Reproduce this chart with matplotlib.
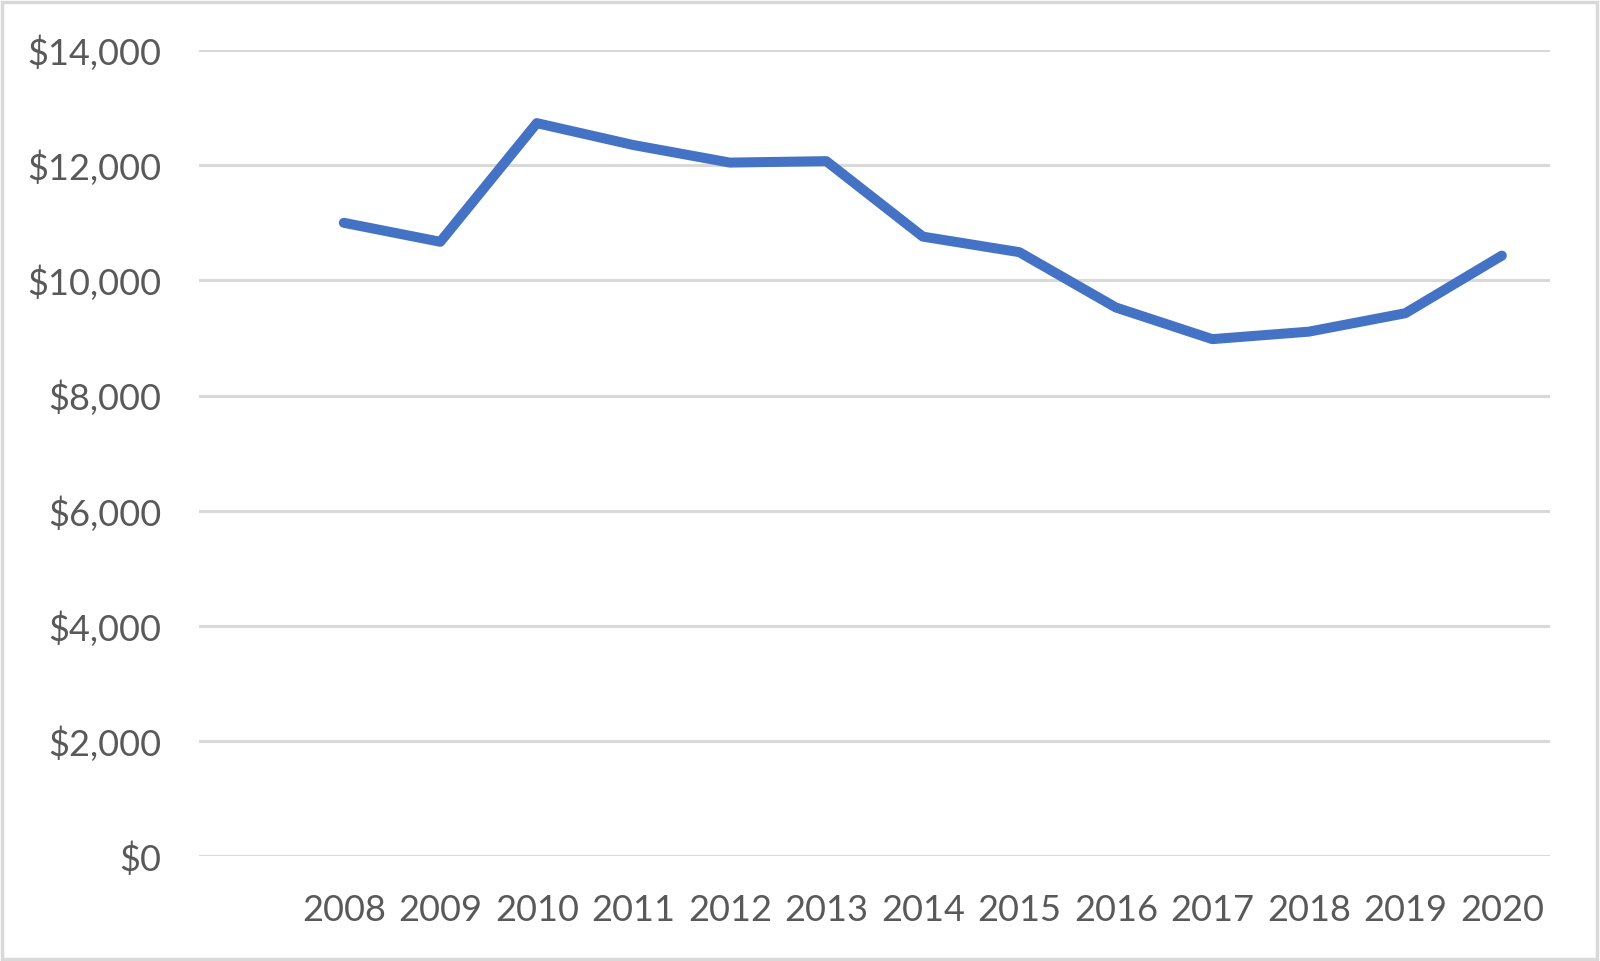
import numpy as np
import matplotlib.pyplot as plt
from matplotlib.ticker import FuncFormatter
from matplotlib.patches import Rectangle

plt.rcParams['font.family'] = ['Lato', 'DejaVu Sans']

# categories (first slot on the axis is empty in the original chart)
years = ['', '2008', '2009', '2010', '2011', '2012', '2013', '2014',
         '2015', '2016', '2017', '2018', '2019', '2020']
values = [np.nan, 11000, 10670, 12730, 12350, 12045, 12070, 10760,
          10490, 9530, 8980, 9110, 9430, 10430]
yticks = [0, 2000, 4000, 6000, 8000, 10000, 12000, 14000]

fig = plt.figure(figsize=(16, 9.61), dpi=100)
ax = fig.add_axes([0.1244, 0.1088, 0.9688 - 0.1244, 0.948 - 0.1088])

x = np.arange(len(years))
ax.plot(x, values, color='#4472C4', lw=7.2, solid_capstyle='round',
        solid_joinstyle='round', zorder=3)

ax.set_xlim(-0.5, len(years) - 0.5)
ax.set_ylim(0, 14000)
ax.set_yticks(yticks)
ax.yaxis.set_major_formatter(FuncFormatter(lambda v, p: f"${v:,.0f}"))
ax.set_xticks(x)
ax.set_xticklabels(years)

ax.grid(axis='y', color='#D9D9D9', lw=2.2)
ax.set_axisbelow(True)
for s in ax.spines.values():
    s.set_visible(False)
ax.tick_params(axis='both', length=0, labelsize=26, colors='#595959')
ax.tick_params(axis='y', pad=27)
ax.tick_params(axis='x', pad=27)

# light border round the whole picture
fig.patches.append(Rectangle((0.001, 0.002), 0.997, 0.996, transform=fig.transFigure,
                             fill=False, edgecolor='#D9D9D9', lw=2.5))

fig.savefig('out.png', dpi=100, facecolor='white')
